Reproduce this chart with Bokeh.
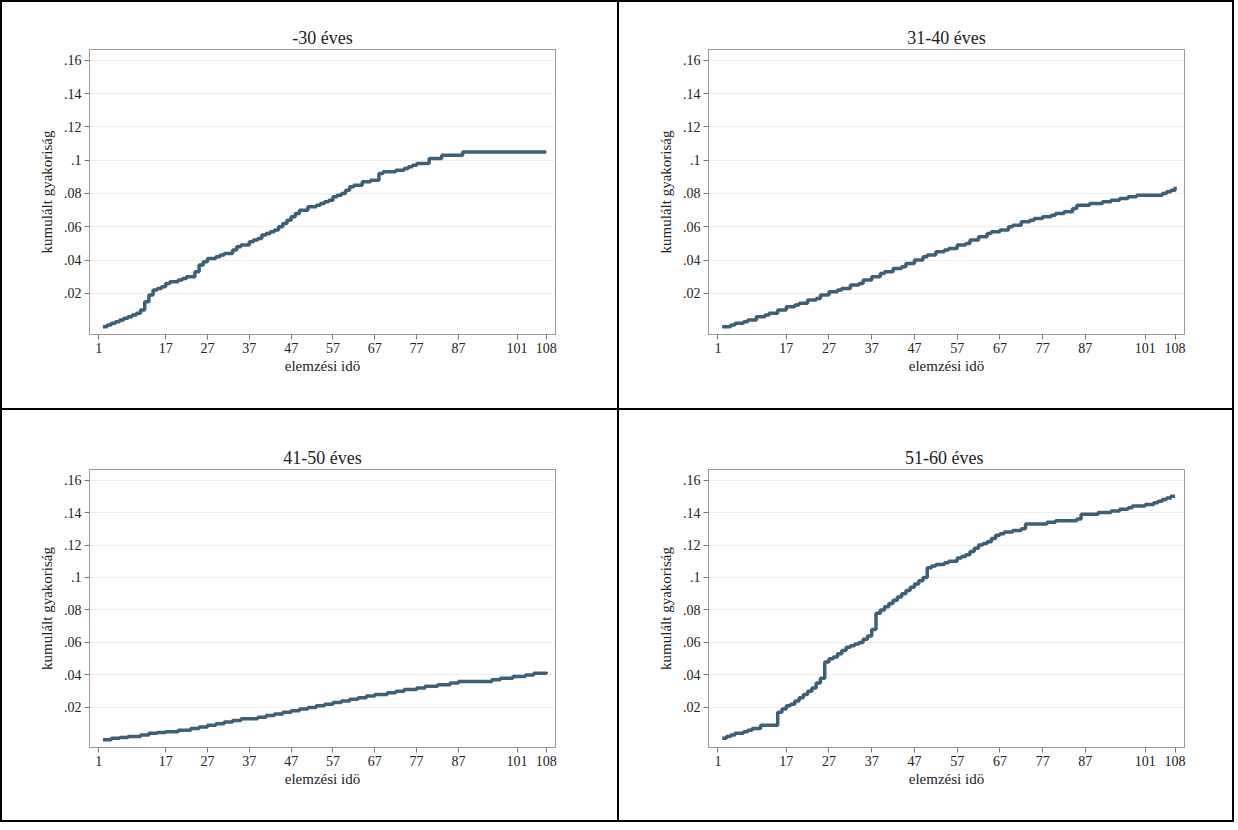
from bokeh.plotting import figure
from bokeh.layouts import gridplot
from bokeh.models import Range1d, FixedTicker
from bokeh.embed import file_html
from bokeh.resources import INLINE

titles = ["-30 éves", "31-40 éves", "41-50 éves", "51-60  éves"]
x_ticks = [1, 17, 27, 37, 47, 57, 67, 77, 87, 101, 108]
y_ticks = [0.02, 0.04, 0.06, 0.08, 0.10, 0.12, 0.14, 0.16]
y_labels = {0.02: ".02", 0.04: ".04", 0.06: ".06", 0.08: ".08", 0.1: ".1",
            0.12: ".12", 0.14: ".14", 0.16: ".16"}

t_a = [2, 3, 4, 5, 6, 7, 8, 9, 10, 11, 12, 13, 14, 15, 16, 17, 18, 20, 21, 22,
       24, 25, 26, 27, 29, 30, 31, 33, 34, 35, 37, 38, 39, 40, 41, 42, 43, 44, 45, 46,
       47, 48, 49, 51, 53, 54, 55, 56, 57, 58, 59, 60, 61, 62, 64, 66, 68, 69, 72, 74,
       75, 76, 77, 80, 83, 88, 108]
v_a = [0.000, 0.001, 0.002, 0.003, 0.004, 0.005, 0.006, 0.007, 0.008, 0.010,
       0.015, 0.019, 0.022, 0.023, 0.024, 0.026, 0.027, 0.028, 0.029, 0.030,
       0.033, 0.037, 0.039, 0.041, 0.042, 0.043, 0.044, 0.046, 0.048, 0.049,
       0.051, 0.052, 0.053, 0.055, 0.056, 0.057, 0.058, 0.060, 0.062, 0.064,
       0.066, 0.068, 0.070, 0.072, 0.073, 0.074, 0.075, 0.076, 0.078, 0.079,
       0.080, 0.082, 0.084, 0.085, 0.087, 0.088, 0.092, 0.093, 0.094, 0.095,
       0.096, 0.097, 0.098, 0.101, 0.103, 0.105, 0.105]

t_b = [2, 4, 5, 7, 8, 10, 12, 13, 15, 17, 19, 20, 22, 24, 25, 27, 29, 30, 32, 34, 35, 37, 39, 40,
       42, 44, 45, 47, 49, 50, 52, 54, 55, 57, 59, 60, 62, 64, 65, 67, 69, 70, 72, 74, 75, 77, 79,
       80, 82, 84, 85, 88, 91, 93, 95, 97, 99, 103, 105, 106, 107, 108]
v_b = [0.000, 0.001, 0.002, 0.003, 0.004, 0.006, 0.007, 0.008, 0.010, 0.012, 0.013, 0.014, 0.016,
       0.017, 0.019, 0.021, 0.022, 0.023, 0.025, 0.026, 0.028, 0.030, 0.032, 0.033, 0.035, 0.036,
       0.038, 0.040, 0.042, 0.043, 0.045, 0.046, 0.047, 0.049, 0.050, 0.052, 0.054, 0.056, 0.057,
       0.058, 0.060, 0.061, 0.063, 0.064, 0.065, 0.066, 0.067, 0.068, 0.069, 0.071, 0.073, 0.074,
       0.075, 0.076, 0.077, 0.078, 0.079, 0.079, 0.080, 0.081, 0.082, 0.084]

t_c = [2, 4, 6, 8, 11, 13, 15, 17, 20, 23, 25, 27, 29, 31, 33, 35, 37, 39, 41, 43, 45, 47, 49, 51,
       53, 55, 57, 59, 61, 63, 65, 67, 70, 72, 74, 77, 79, 82, 85, 87, 92, 95, 97, 100, 103, 105, 108]
v_c = [0.000, 0.001, 0.0015, 0.002, 0.003, 0.004, 0.0045, 0.005, 0.006, 0.007, 0.008, 0.009, 0.010,
       0.011, 0.012, 0.013, 0.013, 0.014, 0.015, 0.016, 0.017, 0.018, 0.019, 0.020, 0.021, 0.022,
       0.023, 0.024, 0.025, 0.026, 0.027, 0.028, 0.029, 0.030, 0.031, 0.032, 0.033, 0.034, 0.035,
       0.036, 0.036, 0.037, 0.038, 0.039, 0.040, 0.041, 0.042]

t_d = [2, 3, 4, 5, 7, 8, 9, 11, 15, 16, 17, 18, 19, 20, 21, 22, 23, 24, 25, 26, 27, 28, 29, 30, 31,
       32, 33, 34, 35, 36, 37, 38, 39, 40, 41, 42, 43, 44, 45, 46, 47, 48, 49, 50, 51, 52, 54, 55,
       57, 58, 59, 60, 61, 62, 63, 64, 65, 66, 67, 68, 70, 72, 73, 76, 78, 80, 85, 86, 87, 90, 93,
       95, 97, 98, 101, 103, 104, 105, 106, 107, 108]
v_d = [0.001, 0.002, 0.003, 0.004, 0.005, 0.006, 0.007, 0.009, 0.017, 0.019, 0.021, 0.022, 0.024,
       0.026, 0.028, 0.030, 0.032, 0.035, 0.038, 0.048, 0.050, 0.051, 0.053, 0.055, 0.057, 0.058,
       0.059, 0.060, 0.062, 0.064, 0.068, 0.078, 0.080, 0.082, 0.084, 0.086, 0.088, 0.090, 0.092,
       0.094, 0.096, 0.098, 0.100, 0.106, 0.107, 0.108, 0.109, 0.110, 0.112, 0.113, 0.114, 0.116,
       0.118, 0.120, 0.121, 0.122, 0.124, 0.126, 0.127, 0.128, 0.129, 0.130, 0.133, 0.133, 0.134,
       0.135, 0.136, 0.139, 0.139, 0.140, 0.141, 0.142, 0.143, 0.144, 0.145, 0.146, 0.147, 0.148,
       0.149, 0.150, 0.150]

series = [(t_a, v_a), (t_b, v_b), (t_c, v_c), (t_d, v_d)]
FONT = "Liberation Serif"
COLOR = "#3d6079"
B = "2px solid black"
geo = [
    (619, 410, 87, 66, 40, 78, {"border-left": B, "border-top": B, "border-right": B, "border-bottom": B}),
    (615, 410, 89, 50, 47, 68, {"border-top": B, "border-right": B, "border-bottom": B}),
    (619, 412, 87, 66, 44, 75, {"border-left": B, "border-right": B, "border-bottom": B}),
    (615, 412, 89, 48, 59, 68, {"border-right": B, "border-bottom": B}),
]

figs = []
for i, ((t, v), title, g) in enumerate(zip(series, titles, geo)):
    w, h, ml, mr, mt, mb, st = g
    p = figure(width=w, height=h, output_backend="svg", toolbar_location=None,
               x_range=Range1d(-1.2, 110.2), y_range=Range1d(-0.0047, 0.1665),
               min_border_left=ml, min_border_right=mr, min_border_top=mt, min_border_bottom=mb,
               title=title, styles=st)
    p.title.align = "center"
    p.title.text_font = FONT
    p.title.text_font_size = "18px"
    p.title.text_font_style = "normal"
    p.title.text_color = "#222222"
    p.title.standoff = 4
    p.outline_line_color = "#999999"
    p.step(t, v, mode="after", line_width=3.5, line_color=COLOR)
    p.xaxis.ticker = FixedTicker(ticks=x_ticks)
    p.yaxis.ticker = FixedTicker(ticks=y_ticks)
    p.yaxis.major_label_overrides = y_labels
    p.xaxis.axis_label = "elemzési idö"
    p.yaxis.axis_label = "kumulált gyakoriság"
    for ax in (p.xaxis[0], p.yaxis[0]):
        ax.axis_label_text_font = FONT
        ax.axis_label_text_font_style = "normal"
        ax.axis_label_text_font_size = "15px"
        ax.major_label_text_font = FONT
        ax.major_label_text_font_size = "14px"
        ax.major_label_text_color = "#222222"
        ax.axis_label_text_color = "#222222"
        ax.axis_line_color = "#999999"
        ax.major_tick_line_color = "#777777"
        ax.major_tick_out = 5
        ax.major_tick_in = 0
        ax.minor_tick_line_color = None
        ax.axis_label_standoff = 2
        ax.major_label_standoff = 3
    p.yaxis.major_label_orientation = "horizontal"
    p.yaxis.axis_label_standoff = 6
    p.xgrid.grid_line_color = None
    p.ygrid.grid_line_color = "#eeeeee"
    figs.append(p)

layout = gridplot([[figs[0], figs[1]], [figs[2], figs[3]]], toolbar_location=None)
open("out.html", "w").write(file_html(layout, INLINE))
